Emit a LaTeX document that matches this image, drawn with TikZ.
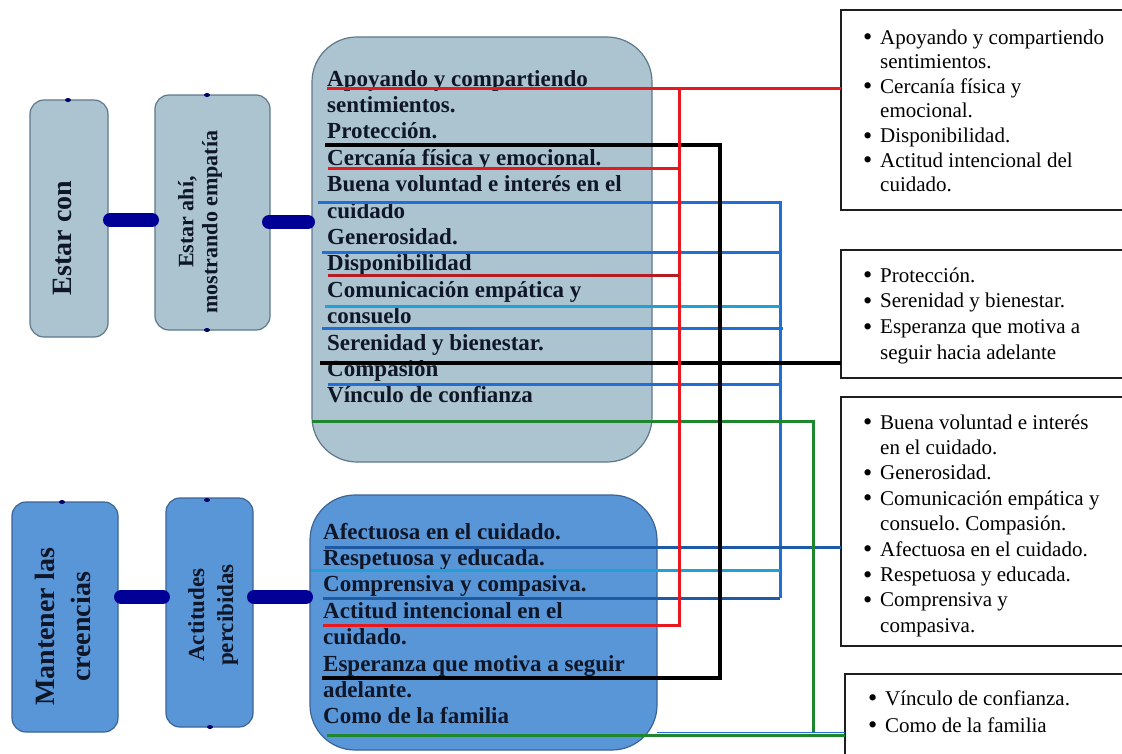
\documentclass[tikz,border=0pt]{standalone}
\usepackage{fontspec}
\setmainfont{Liberation Serif}
\frenchspacing
\definecolor{topfill}{RGB}{171,196,208}
\definecolor{topedge}{RGB}{95,120,140}
\definecolor{botfill}{RGB}{88,150,215}
\definecolor{botedge}{RGB}{60,100,150}
\definecolor{navyc}{RGB}{0,0,150}
\definecolor{txtc}{RGB}{15,22,40}
\definecolor{redc}{RGB}{232,25,30}
\definecolor{dredc}{RGB}{180,30,35}
\definecolor{bluec}{RGB}{33,110,215}
\definecolor{cyanc}{RGB}{34,160,214}
\definecolor{navblc}{RGB}{31,90,165}
\definecolor{greenc}{RGB}{30,135,45}
\definecolor{edgec}{RGB}{30,30,30}
\tikzset{
  lbtop/.style={draw=topedge, fill=topfill, rounded corners=14pt, line width=1.2pt, inner sep=0, outer sep=0},
  lbbot/.style={draw=botedge, fill=botfill, rounded corners=14pt, line width=1.2pt, inner sep=0, outer sep=0},
  bigtop/.style={draw=topedge, fill=topfill, rounded corners=45pt, line width=1.2pt, inner sep=0, outer sep=0, anchor=north west},
  bigbot/.style={draw=botedge, fill=botfill, rounded corners=45pt, line width=1.2pt, inner sep=0, outer sep=0, anchor=north west},
  rbox/.style={draw=edgec, fill=white, line width=1.3pt, inner sep=0, outer sep=0, anchor=north west, minimum width=300pt},
  rottxt/.style={rotate=90, font=\bfseries, text=txtc, align=center, inner sep=0},
  bt/.style={font=\fontsize{23}{26}\selectfont\bfseries, text=txtc, inner sep=0, anchor=base west},
  rt/.style={font=\fontsize{21}{24}\selectfont, text=black, inner sep=0, anchor=base west},
  conn/.style={line width=14pt, line cap=round, draw=navyc},
  dotmark/.style={fill=navyc!70!black},
  redl/.style={draw=redc, line width=3pt},
  dredl/.style={draw=dredc, line width=3pt},
  blkl/.style={draw=black, line width=3.2pt},
  bluel/.style={draw=bluec, line width=3pt},
  cyanl/.style={draw=cyanc, line width=3pt},
  navl/.style={draw=navblc, line width=3pt},
  grnl/.style={draw=greenc, line width=3pt},
  thinb/.style={draw=bluec, line width=1pt},
}
\newcommand{\bul}{\llap{\raisebox{-1.6pt}{\scalebox{1.25}{\textbullet}}\hspace{8pt}}}
\begin{document}
\begin{tikzpicture}[x=1pt,y=-1pt]
\useasboundingbox (0,0) rectangle (1122,753);
\fill[white] (0,0) rectangle (1122,753);

% left boxes
\node[lbtop, minimum width=78pt, minimum height=237pt] (ec) at (69,218.5) {};
\node[lbtop, minimum width=115pt, minimum height=235pt] (ea) at (212.5,212.5) {};
\node[lbbot, minimum width=106pt, minimum height=230pt] (mc) at (65,617) {};
\node[lbbot, minimum width=87pt, minimum height=229pt] (ap) at (209.5,612.5) {};

\node[rottxt, font=\fontsize{28}{30}\selectfont\bfseries] (ect) at (62,238) {Estar con};
\node[rottxt, font=\fontsize{22}{24}\selectfont\bfseries] (eat) at (200,222) {Estar ahí,\\mostrando empatía};
\node[rottxt, font=\fontsize{28}{36}\selectfont\bfseries] (mct) at (62.5,627) {Mantener las\\creencias};
\node[rottxt, font=\fontsize{23}{29}\selectfont\bfseries] (apt) at (213,615) {Actitudes\\percibidas};

% small marks
\fill[dotmark] (68,100) ellipse (3pt and 2pt);
\fill[dotmark] (207,95) ellipse (3pt and 2pt);
\fill[dotmark] (207,330) ellipse (3pt and 2pt);
\fill[dotmark] (62,502) ellipse (3pt and 2pt);
\fill[dotmark] (207,500) ellipse (3pt and 2pt);
\fill[dotmark] (210,727) ellipse (3pt and 2pt);

% big boxes
\node[bigtop, minimum width=340pt, minimum height=425pt] (tb) at (312,37) {};
\node[bigbot, minimum width=347pt, minimum height=255pt] (bb) at (310,495) {};

% thick connectors
\coordinate (k1) at (0,220);
\coordinate (k2) at (0,222);
\coordinate (k3) at (0,597);
\draw[conn] ([xshift=2pt]ec.east |- k1) -- ([xshift=-3pt]ea.west |- k1);
\draw[conn] ([xshift=-1pt]ea.east |- k2) -- ([xshift=-4pt]tb.west |- k2);
\draw[conn] ([xshift=3pt]mc.east |- k3) -- ([xshift=-3pt]ap.west |- k3);
\draw[conn] ([xshift=1pt]ap.east |- k3) -- ([xshift=-4pt]bb.west |- k3);

% texts of big boxes
\foreach [count=\i] \t in {Apoyando y compartiendo, sentimientos., Protección., Cercanía física y emocional., Buena voluntad e interés en el, cuidado, Generosidad., Disponibilidad, Comunicación empática y, consuelo, Serenidad y bienestar., Compasión, Vínculo de confianza}
  \node[bt] (tl\i) at ({327},{86+26.4*(\i-1)}) {\t};
\foreach [count=\i] \t in {Afectuosa en el cuidado., Respetuosa y educada., Comprensiva y compasiva., Actitud intencional en el, cuidado., Esperanza que motiva a seguir, adelante., Como de la familia}
  \node[bt] (bl\i) at ({323},{539+26.4*(\i-1)}) {\t};

% right boxes
\node[rbox, minimum height=200pt] (b1) at (841,10) {};
\node[rbox, minimum height=128pt] (b2) at (841,250) {};
\node[rbox, minimum height=249pt] (b3) at (841,397) {};
\node[rbox, minimum height=100pt] (b4) at (845,674) {};

\foreach [count=\i] \b/\t in {1/Apoyando y compartiendo, 0/sentimientos., 1/Cercanía física y, 0/emocional., 1/Disponibilidad., 1/Actitud intencional del, 0/cuidado.}
  \node[rt] (r1l\i) at ({880},{44+24.6*(\i-1)}) {\ifnum\b=1 \bul\fi\t};
\foreach [count=\i] \b/\t in {1/Protección., 1/Serenidad y bienestar., 1/Esperanza que motiva a, 0/seguir hacia adelante}
  \node[rt] (r2l\i) at ({880},{282+25.7*(\i-1)}) {\ifnum\b=1 \bul\fi\t};
\foreach [count=\i] \b/\t in {1/Buena voluntad e interés, 0/en el cuidado., 1/Generosidad., 1/Comunicación empática y, 0/consuelo. Compasión., 1/Afectuosa en el cuidado., 1/Respetuosa y educada., 1/Comprensiva y, 0/compasiva.}
  \node[rt] (r3l\i) at ({880},{429+25.4*(\i-1)}) {\ifnum\b=1 \bul\fi\t};
\foreach [count=\i] \b/\t in {1/Vínculo de confianza., 1/Como de la familia}
  \node[rt] (r4l\i) at ({885},{705+27*(\i-1)}) {\ifnum\b=1 \bul\fi\t};

% connector coordinates
\coordinate (xR) at (679,0);
\coordinate (xK) at (720,0);
\coordinate (xB) at (780,0);
\coordinate (xG) at (813,0);
\coordinate (aApo) at (327,88);
\coordinate (aPro) at (325,145);
\coordinate (aCer) at (328,168);
\coordinate (aBue) at (318,202);
\coordinate (aGen) at (322,252);
\coordinate (aDis) at (328,275);
\coordinate (aCom) at (325,306);
\coordinate (aCon) at (322,328);
\coordinate (aSer) at (320,363);
\coordinate (aCmp) at (328,384);
\coordinate (aVin) at (312,421);
\coordinate (aAfe) at (325,547);
\coordinate (aRes) at (311,570);
\coordinate (aCpr) at (323,598);
\coordinate (aAct) at (323,625);
\coordinate (aEsp) at (322,678);
\coordinate (aCdf) at (327,735);

% blue group
\draw[bluel] (aBue) -- (aBue -| xB) -- (aCpr -| xB);
\draw[bluel] (aGen) -- (aGen -| xB);
\draw[cyanl] (aCom) -- (aCom -| xB);
\draw[bluel] (aCon) -- ([xshift=3pt]aCon -| xB);
\draw[bluel] (aCmp) -- (aCmp -| xB);
\draw[navl] (aAfe) -- (aAfe -| b3.west);
\draw[cyanl] (aRes) -- (aRes -| xB);
\draw[navl] (aCpr) -- (aCpr -| xB);
% green group
\draw[thinb] ([yshift=2.5pt]aCdf -| bb.east) -- ([yshift=2.5pt]aCdf -| b4.west);
\draw[grnl] (aVin) -- (aVin -| xG) -- ([yshift=3pt]aCdf -| xG);
\draw[grnl] (aCdf) -- (aCdf -| b4.west);
% black group
\draw[blkl] (aPro) -- (aPro -| xK) -- (aEsp -| xK) -- (aEsp);
\draw[blkl] (aSer) -- (aSer -| b2.west);
% red group
\draw[redl] (aApo) -- (aApo -| b1.west);
\draw[redl] (aApo -| xR) -- (aAct -| xR) -- (aAct);
\draw[redl] (aCer) -- (aCer -| xR);
\draw[dredl] (aDis) -- (aDis -| xR);
\end{tikzpicture}
\end{document}
